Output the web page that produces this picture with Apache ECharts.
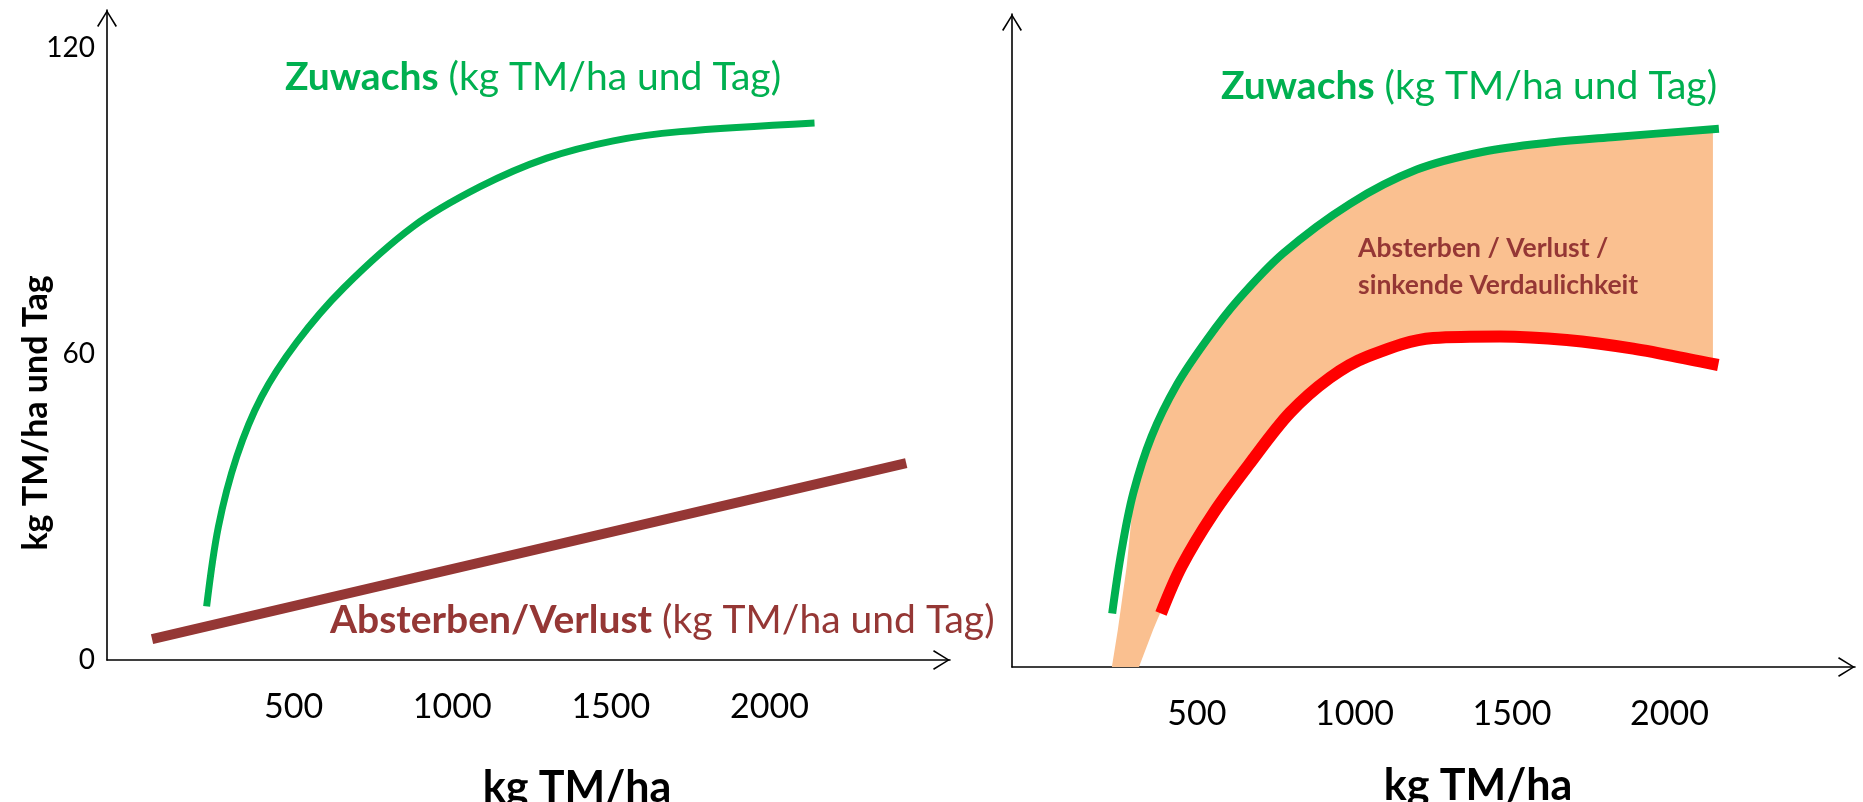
<!DOCTYPE html>
<html>
<head>
<meta charset="utf-8">
<script src="https://cdn.jsdelivr.net/npm/echarts@6/dist/echarts.min.js"></script>
<style>
html,body{margin:0;padding:0;background:#fff;}
#chart{width:1863px;height:802px;}
</style>
</head>
<body>
<div id="chart"></div>
<script>
// ---------- data (kg TM/ha  vs  kg TM/ha und Tag) ----------
const xTickValues = [500, 1000, 1500, 2000];
const yTickValues = [0, 60, 120];

// left panel
const leftGrowthX = [226, 263, 321, 399, 510, 657, 877, 1088, 1298, 1508, 1718, 2142];
const leftGrowthY = [10.5, 26.1, 39.9, 51.6, 62.3, 72.9, 85.0, 92.8, 98.4, 101.8, 103.6, 105.3];
const leftLossX = [54, 2431];
const leftLossY = [4.1, 38.6];

// right panel
const rightGrowthX = [231, 261, 298, 356, 436, 531, 631, 774, 986, 1198, 1409, 1621, 1827, 2157];
const rightGrowthY = [10.5, 22.9, 34.1, 45.2, 55.3, 64.1, 72.0, 81.1, 90.8, 97.5, 101.0, 102.8, 103.9, 105.5];
const rightNetX = [386, 451, 552, 668, 795, 922, 1039, 1250, 1462, 1674, 1885, 2097, 2155];
const rightNetY = [10.5, 19.7, 30.1, 39.9, 49.8, 56.7, 60.8, 64.5, 64.8, 64.1, 62.4, 59.9, 59.2];

// shaded band (loss area) outline: upper edge left->right, lower edge right->left
const bandUpperX = [230, 249, 277, 298, 356, 436, 531, 631, 774, 986, 1198, 1409, 1621, 1827, 2138];
const bandUpperY = [0, 7.3, 19.7, 32.7, 45.2, 55.3, 64.1, 72.0, 81.1, 90.8, 97.5, 101.0, 102.8, 103.9, 105.0];
const bandLowerX = [2138, 2097, 1885, 1674, 1462, 1250, 1039, 922, 795, 668, 552, 451, 386, 376, 361, 316];
const bandLowerY = [60.2, 60.2, 62.7, 64.4, 65.1, 64.8, 61.2, 57.1, 50.2, 40.3, 30.5, 20.1, 10.9, 9.5, 7.3, 0];

const zip = (xs, ys) => xs.map((x, i) => [x, ys[i]]);

const GREEN = '#00B050';
const BROWN = '#953735';
const RED = '#FF0000';
const ORANGE = '#FAC090';
const FONT = 'Lato';

const chevron = 'path://M10,0 L20,16 L18.6,16.8 L10,2.6 L1.4,16.8 L0,16 Z';

function xAxisCfg(grid, min, max) {
  return {
    type: 'value', gridIndex: grid, min: min, max: max,
    axisLine: { show: true, onZero: false, lineStyle: { color: '#000', width: 1.6 },
      symbol: ['none', chevron], symbolSize: [20, 17], symbolOffset: [0, -8.5] },
    axisTick: { show: false }, splitLine: { show: false },
    axisLabel: { show: true, customValues: xTickValues, margin: 30,
      formatter: v => String(v),
      fontFamily: FONT, fontSize: 34, color: '#000' }
  };
}
function yAxisCfg(grid, max, showLabels) {
  return {
    type: 'value', gridIndex: grid, min: 0, max: max,
    axisLine: { show: true, onZero: false, lineStyle: { color: '#000', width: 1.6 },
      symbol: ['none', chevron], symbolSize: [20, 17], symbolOffset: [0, -8.5] },
    axisTick: { show: false }, splitLine: { show: false },
    axisLabel: { show: showLabels, customValues: yTickValues, margin: 12,
      formatter: v => String(v),
      fontFamily: FONT, fontSize: 28, color: '#000' }
  };
}

const chart = echarts.init(document.getElementById('chart'), null, { renderer: 'canvas' });

const lineCommon = { type: 'line', smooth: 0.34, showSymbol: false, z: 3 };

const option = {
  backgroundColor: '#fff',
  animation: false,
  grid: [
    { left: 107, top: 10, width: 843, height: 650 },
    { left: 1012, top: 14, width: 843, height: 653 }
  ],
  xAxis: [xAxisCfg(0, -88, 2569), xAxisCfg(1, -87, 2589)],
  yAxis: [yAxisCfg(0, 127.45, true), yAxisCfg(1, 128, false)],
  series: [
    Object.assign({}, lineCommon, { xAxisIndex: 0, yAxisIndex: 0,
      lineStyle: { color: GREEN, width: 7 }, data: zip(leftGrowthX, leftGrowthY) }),
    { type: 'line', xAxisIndex: 0, yAxisIndex: 0, showSymbol: false, z: 3,
      lineStyle: { color: BROWN, width: 10 }, data: zip(leftLossX, leftLossY) },
    {
      type: 'custom', xAxisIndex: 1, yAxisIndex: 1, coordinateSystem: 'cartesian2d',
      data: [[bandUpperX[0], bandUpperY[0]]], z: 1,
      renderItem: function (params, api) {
        const pts = [];
        zip(bandUpperX, bandUpperY).forEach(p => pts.push(api.coord(p)));
        zip(bandLowerX, bandLowerY).forEach(p => pts.push(api.coord(p)));
        return { type: 'polygon', shape: { points: pts, smooth: 0 }, style: { fill: ORANGE } };
      }
    },
    Object.assign({}, lineCommon, { xAxisIndex: 1, yAxisIndex: 1,
      lineStyle: { color: GREEN, width: 8 }, data: zip(rightGrowthX, rightGrowthY) }),
    Object.assign({}, lineCommon, { xAxisIndex: 1, yAxisIndex: 1,
      lineStyle: { color: RED, width: 12 }, data: zip(rightNetX, rightNetY) })
  ],
  graphic: [
    { type: 'text', left: 285, top: 58, z: 10, style: {
      text: '{b|Zuwachs}{n| (kg TM/ha und Tag)}',
      rich: { b: { fontFamily: FONT, fontWeight: 'bold', fontSize: 39, fill: GREEN },
              n: { fontFamily: FONT, fontSize: 39, fill: GREEN } } } },
    { type: 'text', left: 330, top: 601, z: 10, style: {
      text: '{b|Absterben/Verlust}{n| (kg TM/ha und Tag)}',
      rich: { b: { fontFamily: FONT, fontWeight: 'bold', fontSize: 39, fill: BROWN },
              n: { fontFamily: FONT, fontSize: 39, fill: BROWN } } } },
    { type: 'text', left: 1221, top: 67, z: 10, style: {
      text: '{b|Zuwachs}{n| (kg TM/ha und Tag)}',
      rich: { b: { fontFamily: FONT, fontWeight: 'bold', fontSize: 39, fill: GREEN },
              n: { fontFamily: FONT, fontSize: 39, fill: GREEN } } } },
    { type: 'text', left: 1358, top: 230, z: 10, style: {
      text: 'Absterben / Verlust /\nsinkende Verdaulichkeit',
      fontFamily: FONT, fontWeight: 'bold', fontSize: 26.5, lineHeight: 37, fill: BROWN } },
    { type: 'text', x: 36, y: 413, rotation: Math.PI / 2, z: 10, style: {
      text: 'kg TM/ha und Tag', fontFamily: FONT, fontWeight: 'bold', fontSize: 34,
      fill: '#000', align: 'center', verticalAlign: 'middle' } },
    { type: 'text', x: 577, y: 788, z: 10, style: {
      text: 'kg TM/ha', fontFamily: FONT, fontWeight: 'bold', fontSize: 43,
      fill: '#000', align: 'center', verticalAlign: 'middle' } },
    { type: 'text', x: 1478, y: 786, z: 10, style: {
      text: 'kg TM/ha', fontFamily: FONT, fontWeight: 'bold', fontSize: 43,
      fill: '#000', align: 'center', verticalAlign: 'middle' } }
  ]
};
chart.setOption(option);
</script>
</body>
</html>
